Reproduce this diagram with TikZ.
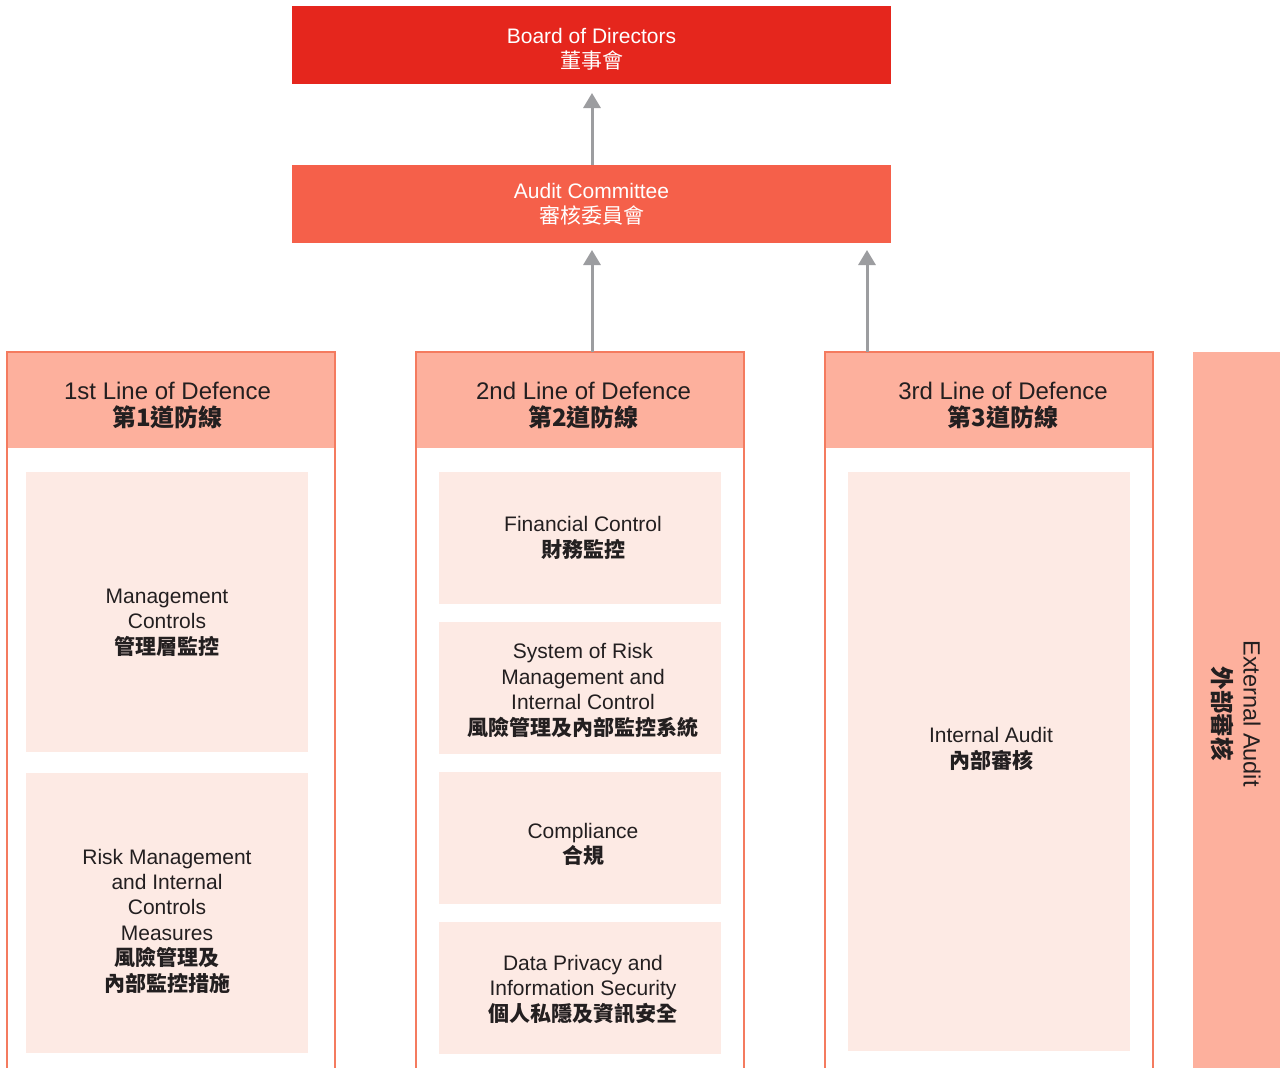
\documentclass[tikz,border=0pt]{standalone}
\usepackage{fontspec}
\setmainfont{Liberation Sans}
\newfontfamily\cjk{Noto Sans CJK TC}
\usetikzlibrary{arrows.meta}
\definecolor{boardred}{HTML}{E5261D}
\definecolor{auditred}{HTML}{F5604A}
\definecolor{headfill}{HTML}{FDB09D}
\definecolor{framecol}{HTML}{F47B5F}
\definecolor{innerfill}{HTML}{FDEAE4}
\definecolor{arrgray}{HTML}{9C9DA0}
\definecolor{txtcol}{HTML}{231F20}
\newcommand{\zhb}[1]{{\cjk\bfseries #1}}
\newcommand{\zhr}[1]{{\cjk #1}}
\begin{document}
\begin{tikzpicture}[x=1pt,y=-1pt,
  rect/.style={draw=none, inner sep=0pt, outer sep=0pt, anchor=north west},
  topbox/.style={rect, fill=#1, minimum width=599pt, minimum height=78pt},
  headbox/.style={rect, fill=headfill, minimum width=328pt, minimum height=96pt},
  innerbox/.style={rect, fill=innerfill, minimum width=282pt, minimum height=#1},
  frameline/.style={draw=framecol, line width=2.2pt},
  toptext/.style={text=white, align=center, inner sep=0pt, font=\fontsize{21}{25}\selectfont},
  headtext/.style={text=txtcol, align=center, inner sep=0pt, font=\fontsize{24}{27}\selectfont},
  bodytext/.style={text=txtcol, align=center, inner sep=0pt, font=\fontsize{21}{25.4}\selectfont},
  uparrow/.style={draw=arrgray, line width=3pt, -{Triangle[width=17pt,length=15pt]}}
]
\fill[white] (0,0) rectangle (1280,1068);
\useasboundingbox (0,0) rectangle (1280,1068);

% top boxes
\node[topbox=boardred] (board) at (292,6) {};
\node[topbox=auditred] (audit) at (292,165) {};
\node[toptext] (boardt) at (591.5,49) {Board of Directors\\\zhr{董事會}};
\node[toptext] (auditt) at (591.5,204) {Audit Committee\\\zhr{審核委員會}};

% column headers
\node[headbox] (col1) at (7,352) {};
\node[headbox] (col2) at (416,352) {};
\node[headbox] (col3) at (825,352) {};
\draw[frameline] (7,1072) -- (7,352) -- (335,352) -- (335,1072);
\draw[frameline] (416,1072) -- (416,352) -- (744,352) -- (744,1072);
\draw[frameline] (825,1072) -- (825,352) -- (1153,352) -- (1153,1072);
\node[headtext] (col1t) at (167.5,405) {1st Line of Defence\\\zhb{第1道防線}};
\node[headtext] (col2t) at (583.5,405) {2nd Line of Defence\\\zhb{第2道防線}};
\node[headtext] (col3t) at (1003,405) {3rd Line of Defence\\\zhb{第3道防線}};

% external audit
\node[rect, fill=headfill, minimum width=87pt, minimum height=720pt] (ext) at (1193,352) {};
\node[headtext, rotate=-90, font=\fontsize{23.5}{30}\selectfont] (extt) at (1236,713.5) {External Audit\\\zhb{外部審核}};

% first line boxes
\node[innerbox=280pt] (m1) at (26,472) {};
\node[innerbox=280pt] (m2) at (26,773) {};
\node[bodytext] (m1t) at (167,622.5) {Management\\Controls\\\zhb{管理層監控}};
\node[bodytext] (m2t) at (167,921) {Risk Management\\and Internal\\Controls\\Measures\\\zhb{風險管理及}\\\zhb{內部監控措施}};

% second line boxes
\node[innerbox=132pt] (s1) at (439,472) {};
\node[innerbox=132pt] (s2) at (439,622) {};
\node[innerbox=132pt] (s3) at (439,772) {};
\node[innerbox=132pt] (s4) at (439,922) {};
\node[bodytext] (s1t) at (583,538) {Financial Control\\\zhb{財務監控}};
\node[bodytext] (s2t) at (583,690.5) {System of Risk\\Management and\\Internal Control\\\zhb{風險管理及內部監控系統}};
\node[bodytext] (s3t) at (583,844.5) {Compliance\\\zhb{合規}};
\node[bodytext] (s4t) at (583,989.5) {Data Privacy and\\Information Security\\\zhb{個人私隱及資訊安全}};

% third line box
\node[innerbox=579pt] (t1) at (848,472) {};
\node[bodytext] (t1t) at (991,749) {Internal Audit\\\zhb{內部審核}};

% arrows
\draw[uparrow, shorten >=9pt] (audit.north -| 592,0) -- (board.south -| 592,0);
\draw[uparrow, shorten >=7pt] (col2.north -| 592,0) -- (audit.south -| 592,0);
\draw[uparrow, shorten >=7pt] (col3.north -| 867,0) -- (audit.south -| 867,0);
\end{tikzpicture}
\end{document}
